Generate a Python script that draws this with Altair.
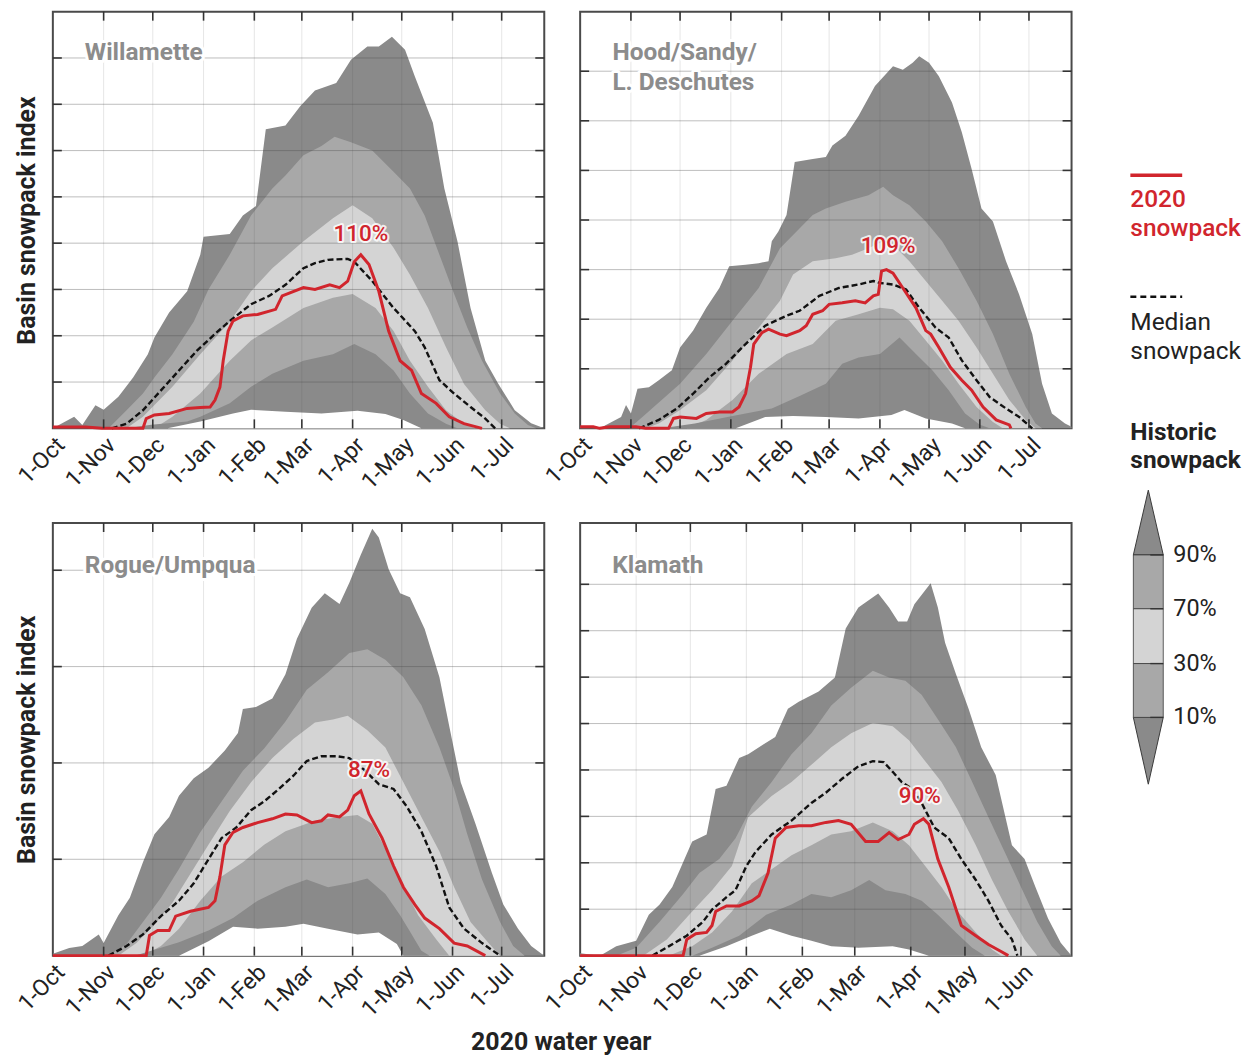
import altair as alt
import pandas as pd

# ---------------------------------------------------------------------------
# Data: (days after 1-Oct-2019, basin snowpack index)
# ---------------------------------------------------------------------------
WIL_MAX = [(0,0),(13,2.5),(18,0.7),(26,5),(31,4),(40,6.8),(49,11),(58,16),(62,19.6),(71,25),(82,29.6),(90,37.5),(92,41.4),(108,42),(116,46),(124,48),(130,64.6),(142,65.4),(151,69.6),(160,73),(173,74.6),(182,79.6),(192,82.5),(199,82.5),(207,84.6),(215,81.8),(221,76),(232,66),(239,51.8),(247,40.4),(255,26),(264,14.6),(272,9.6),(282,3.9),(292,1.1),(300,0)]
WIL_P90 = [(34,0),(45,3.9),(55,7.5),(62,11),(73,16),(86,23),(95,30),(108,37.5),(121,46),(134,51.8),(142,54.6),(153,59),(164,61),(172,63),(182,61.8),(195,60),(208,55.4),(218,51.8),(227,46),(236,37.5),(245,29),(253,21.8),(262,14.6),(273,7.5),(282,3.2),(290,0.7),(295,0)]
WIL_P70 = [(45,0),(55,2.5),(73,9),(90,16),(108,23),(121,29.6),(134,34.6),(153,40.4),(171,45.4),(183,48.2),(195,45.4),(208,39),(218,33.2),(229,26),(240,17.5),(251,9.6),(264,3.9),(273,1),(279,0)]
WIL_P30 = [(62,0),(73,2.5),(90,7.5),(108,14.6),(121,19),(134,21.8),(153,26),(171,28.2),(183,29),(197,26),(208,21),(218,14.6),(229,9),(240,3.9),(251,1),(258,0)]
WIL_P10 = [(45,0),(60,0.8),(82,1.5),(90,2.5),(108,5.4),(121,9),(134,11.8),(153,14.6),(171,16),(184,18.2),(197,16),(208,12.5),(218,7.5),(229,3.2),(240,1),(247,0)]
WIL_MIN = [(70,0),(90,1.5),(110,3.2),(121,4),(142,3.6),(164,3.2),(186,3.8),(203,3.1),(214,1.8),(225,0)]
WIL_MEDIAN = [(36,0),(45,1),(55,3.9),(66,8.2),(77,12.5),(88,16.8),(99,20.4),(108,23.2),(121,26.8),(132,28.6),(142,31),(153,34.6),(160,35.7),(168,36.4),(180,36.6),(184,36),(195,31.8),(208,26),(221,21),(227,17.5),(236,10.4),(245,7.5),(255,4.6),(264,2.1),(270,0)]
WIL_2020 = [(0,0.3),(20,0.3),(30,0),(55,0),(57,2.1),(62,2.9),(71,3.2),(82,4.3),(90,4.5),(96,4.6),(99,6.1),(102,8.9),(104,14.6),(107,21),(110,23.2),(116,24.3),(125,24.6),(136,25.7),(140,28.6),(153,30.4),(160,30),(169,31),(175,30.4),(180,31.8),(184,36),(188,37.5),(193,35.4),(199,29.6),(205,21),(212,14.6),(219,12.5),(225,7.5),(234,5.4),(242,2.5),(251,1),(262,0)]

HOOD_MAX = [(0,0.3),(12,0),(25,2.3),(28,4.7),(31,3),(35,8),(42,8.3),(48,9.7),(56,11.7),(61,16.3),(69,19.7),(77,24.3),(85,28.3),(91,32.7),(101,33),(109,33.3),(115,33.7),(117,37.7),(121,39.7),(126,43),(131,53.7),(142,54.3),(150,54.7),(154,57),(162,59),(170,63),(180,69),(191,73),(197,72.3),(203,73.7),(207,75),(213,73.7),(219,71),(227,65.7),(233,59.7),(239,52.3),(245,44.3),(252,41.7),(260,33.7),(268,27),(276,19),(282,9),(288,3),(296,1),(300,0.3)]
HOOD_P90 = [(30,0),(38,2.3),(61,9),(77,15),(93,21.7),(109,28.3),(122,36.3),(130,39),(142,43),(150,44.3),(162,45.7),(176,47),(185,48.7),(191,47),(201,45),(211,41.7),(221,37.7),(231,32.3),(242,25.7),(252,19),(262,11),(272,4.3),(278,1),(282,0)]
HOOD_P70 = [(40,0),(48,1),(61,3.7),(77,7.7),(93,13.7),(109,20.3),(122,25.7),(130,31),(142,33.7),(156,34.3),(166,35),(176,36.3),(185,37.7),(191,37),(201,33.7),(211,29.7),(221,25.7),(231,21.7),(242,16.3),(252,11),(262,5.7),(272,1.7),(278,0)]
HOOD_P30 = [(65,0),(77,1.7),(93,5.7),(109,11),(126,15),(142,17),(156,21.7),(170,23),(183,24.3),(191,24),(201,21.7),(211,17.7),(221,13.7),(231,9),(242,4.3),(252,1.3),(258,0)]
HOOD_P10 = [(50,0),(70,1),(90,2.3),(101,3),(117,4),(134,6.5),(150,9),(160,13),(170,14.3),(183,15),(195,18.3),(205,15),(215,11.7),(225,7.7),(235,3),(244,0.7),(250,0)]
HOOD_MIN = [(95,0),(113,2.3),(130,2.5),(150,2.3),(170,2),(190,2.7),(198,3.7),(211,2),(227,1),(235,0)]
HOOD_MEDIAN = [(36,0),(48,1.7),(59,4),(69,7),(79,10.3),(89,13),(101,17),(113,20.7),(126,22.7),(134,23.7),(146,26.7),(158,28.3),(170,29),(179,29.7),(183,29.3),(191,29),(199,28),(207,24.3),(217,20.3),(225,18.3),(233,13.7),(242,9.7),(250,6.3),(260,4),(268,2.3),(276,0)]
HOOD_2020 = [(0,0.3),(8,0.3),(12,0),(18,0.3),(34,0.3),(40,0),(54,0),(57,2),(61,2.3),(71,2),(77,3),(85,3.3),(93,3.3),(97,4.3),(101,7),(104,12.3),(106,17),(111,19.3),(115,20),(122,19),(126,18.7),(134,19.7),(138,20.7),(142,23),(148,23.7),(152,25),(160,25.3),(168,25.7),(174,25.3),(179,26.7),(182,27),(184,31.7),(187,32),(191,31.3),(197,28.3),(205,24.3),(211,19.7),(214,19),(219,16.3),(226,12.3),(233,9.7),(239,7.7),(246,4.3),(254,1.7),(262,0.7),(263,0)]

ROGUE_MAX = [(0,0.2),(10,0.8),(18,1),(28,2.2),(31,1.3),(40,4.2),(47,6),(55,9.7),(62,12.6),(71,14.4),(77,16.6),(86,18.4),(95,19.5),(105,21.3),(113,23.1),(116,25.6),(124,25.8),(134,26.7),(142,29.2),(149,32.9),(158,36.1),(166,37.6),(175,36.5),(181,38.7),(188,41.6),(195,44.3),(199,43.4),(205,40.1),(212,37.6),(218,37.2),(227,33.9),(236,28.9),(242,23.8),(249,18),(258,13.7),(268,8.6),(275,5.3),(284,2.8),(292,1),(300,0)]
ROGUE_P90 = [(34,0),(45,1.2),(55,3.5),(66,6),(77,9),(90,12.8),(103,16),(116,19.2),(129,21.5),(142,24.3),(155,27.6),(168,29.4),(181,31.4),(192,31.8),(203,30.7),(214,28.9),(225,26),(236,21.6),(245,17.3),(253,12.6),(262,7.9),(273,3.5),(281,1),(288,0)]
ROGUE_P70 = [(40,0),(51,1.3),(62,3.2),(73,5.5),(84,8.5),(95,11.5),(108,15),(121,18),(134,20.5),(147,22.5),(160,24.2),(171,24.5),(180,24.9),(192,23.4),(203,21.6),(214,18),(225,14.4),(236,10.8),(245,7.1),(255,3.5),(266,1.3),(273,0)]
ROGUE_P30 = [(55,0),(66,1),(77,2.8),(90,5.7),(103,8.2),(116,9.7),(129,11.5),(142,12.9),(160,14),(175,14.4),(186,14.6),(195,13.7),(203,11.1),(212,7.9),(223,4.2),(234,1.7),(242,0)]
ROGUE_P10 = [(50,0),(62,0.6),(77,1.4),(95,2.6),(110,3.9),(125,5.7),(142,7.1),(155,7.9),(168,7.1),(181,7.5),(192,8),(203,6.4),(212,4.2),(218,2.5),(225,0.5),(230,0)]
ROGUE_MIN = [(77,0),(95,1.5),(110,3),(125,2.8),(142,3),(153,3.3),(168,2.8),(186,2.2),(199,2.4),(210,1.2),(214,0)]
ROGUE_MEDIAN = [(34,0),(45,1),(55,2.2),(66,4.1),(77,5.7),(86,7.5),(95,10),(103,12.2),(112,13.3),(121,15.1),(129,16),(138,17.3),(147,18.7),(155,20.2),(164,20.7),(173,20.7),(181,20.5),(190,19.3),(199,17.8),(208,17.3),(216,15.5),(225,12.9),(234,9.3),(242,5),(251,2.8),(262,1.3),(273,0)]
ROGUE_2020 = [(0,0),(57,0),(59,2.1),(64,2.6),(71,2.6),(75,4.1),(84,4.6),(95,5),(99,5.7),(102,8.2),(105,11.5),(110,12.8),(116,13.3),(125,13.8),(134,14.2),(142,14.7),(149,14.6),(158,13.8),(164,14),(168,14.6),(175,14.4),(180,15.1),(184,16.6),(188,17.1),(193,14.7),(201,12.2),(208,9.3),(214,7.1),(221,5.3),(227,3.9),(236,2.8),(245,1.3),(253,1),(264,0)]

KLAM_MAX = [(0,0.5),(11,0),(20,2),(31,3.2),(38,8.8),(44,11),(51,14.8),(57,20.1),(62,24.6),(70,26.1),(75,35.9),(81,36.6),(88,42.6),(93,43.4),(99,44.9),(108,47.1),(115,53.2),(121,54.7),(132,56.9),(141,59.9),(147,70.5),(154,75),(165,78),(171,75),(176,72),(181,72),(185,75.7),(194,80.2),(198,75),(202,67.4),(208,60.7),(215,53.2),(222,44.9),(230,38.9),(239,23.8),(246,20.8),(252,14.8),(259,8),(266,2.8),(272,0)]
KLAM_P90 = [(20,0),(31,1.7),(44,7.3),(57,13.3),(66,17.8),(77,20.8),(86,25.3),(95,32.1),(106,37.4),(117,43.4),(128,47.9),(139,53.9),(150,57.7),(162,61.4),(171,59.9),(180,59.2),(189,56.2),(198,50.9),(208,44.9),(217,37.4),(226,29.8),(235,22.3),(244,14.8),(253,7.3),(261,2),(266,0)]
KLAM_P70 = [(35,0),(48,3.5),(62,9.5),(73,14.1),(84,19.3),(93,29.8),(106,34.4),(117,37.4),(128,41.1),(139,44.9),(150,47.9),(162,50.1),(173,49.4),(182,46.4),(191,41.9),(200,37.4),(209,31.4),(219,23.8),(228,16.3),(237,9.5),(246,3.5),(253,0)]
KLAM_P30 = [(49,0),(62,2),(73,5),(84,9.5),(95,15.6),(106,18.6),(117,21.6),(128,23.8),(139,26.1),(150,26.8),(162,28.7),(173,26.8),(182,23.8),(191,19.3),(200,14.8),(209,9.5),(219,5),(228,1.3),(233,0)]
KLAM_P10 = [(62,0),(73,1.7),(88,4.3),(103,8.8),(117,11),(128,13.3),(139,12.6),(150,14.1),(160,16.3),(169,14.1),(180,13.3),(189,11.8),(198,8.8),(208,5),(217,1.7),(224,0)]
KLAM_MIN = [(66,0),(81,2),(95,4.3),(105,5.8),(117,4.3),(128,3.2),(139,2),(154,1.7),(173,2),(182,1.3),(193,0)]
KLAM_MEDIAN = [(40,0),(49,2),(59,4.3),(68,7.3),(73,9.9),(81,12.6),(86,14.1),(92,19.3),(97,22.3),(106,26.1),(117,29.1),(128,32.9),(136,35.1),(145,38.1),(154,40.8),(162,41.9),(168,41.7),(173,39.6),(178,37.4),(184,35.9),(189,32.9),(196,27.6),(204,25.3),(211,20.8),(219,16.3),(226,11.8),(233,6.5),(239,3.5),(242,0)]
KLAM_2020 = [(0,0),(57,0),(59,3.5),(64,4.7),(70,5),(73,6.5),(75,9.5),(81,10.7),(88,10.7),(95,11.8),(99,12.9),(104,17.8),(108,25.3),(114,27.6),(121,28),(128,28),(136,28.7),(143,29.1),(150,28.3),(158,24.6),(165,24.6),(171,26.5),(176,25),(182,26.1),(185,28.3),(190,29.5),(193,28.3),(198,20.8),(204,14.8),(211,6.5),(219,4.3),(226,2.4),(233,0.9),(237,0)]

# y gridline values and axis extents (index units)
WIL_GRID = [10, 20, 30, 40, 50, 60, 70, 80]
HOOD_GRID = [12, 22, 32, 42, 52, 62, 72]
ROGUE_GRID = [10, 20, 30, 40]
KLAM_GRID = [10, 20, 30, 40, 50, 60, 70, 80]
Y_MAX = {"wil": 90, "hood": 84, "rogue": 44.9, "klam": 93.2}
X_DAYS = {"wil": 300, "hood": 300, "rogue": 300, "klam": 272}

MONTHS_LONG = ["2019-10-01", "2019-11-01", "2019-12-01", "2020-01-01", "2020-02-01",
               "2020-03-01", "2020-04-01", "2020-05-01", "2020-06-01", "2020-07-01"]
MONTHS_SHORT = MONTHS_LONG[:-1]

# panel names: (text, day, index)
WIL_NAME = [("Willamette", 19.5, 81)]
HOOD_NAME = [("Hood/Sandy/", 19.7, 75.6), ("L. Deschutes", 19.7, 69.7)]
ROGUE_NAME = [("Rogue/Umpqua", 19.5, 40.4)]
KLAM_NAME = [("Klamath", 17.8, 84)]

# 2020 percent annotations: (text, day, index)
WIL_PCT = [("110%", 188, 42)]
HOOD_PCT = [("109%", 188, 36.7)]
ROGUE_PCT = [("87%", 193, 19.3)]
KLAM_PCT = [("90%", 188, 34.4)]

LEGEND_2020 = ["2020", "snowpack"]
LEGEND_MEDIAN = ["Median", "snowpack"]
LEGEND_HIST = ["Historic", "snowpack"]
LEGEND_PCTS = ["90%", "70%", "30%", "10%"]

# ---------------------------------------------------------------------------
RED = "#d1252d"
DARK = "#8a8a8a"
MID = "#a8a8a8"
LIGHT = "#d4d4d4"
FONT = "Roboto"
TXT = "#222222"

ORIGIN = pd.Timestamp("2019-10-01", tz="UTC")


def ms(day):
    return int((ORIGIN + pd.Timedelta(days=float(day))).value // 1_000_000)


def date_ms(s):
    return int(pd.Timestamp(s, tz="UTC").value // 1_000_000)


def make_panel(series, grid_vals, ymax, xdays, months, names, pcts, w, h, ytitle=None):
    rows = [{"s": k, "t": ms(d), "v": v} for k, pts in series.items() for d, v in pts]
    df = pd.DataFrame(rows)
    mvals = [date_ms(m) for m in months]

    X = alt.X("t:T", scale=alt.Scale(type="utc", domain=[ms(0), ms(xdays)], nice=False),
              axis=alt.Axis(values=mvals, format="%-d-%b", labelAngle=315, labelAlign="right",
                            labelBaseline="top", labelFontSize=23, labelColor=TXT, labelPadding=5,
                            labelFlush=False, labelOverlap=False, ticks=False, domain=False,
                            grid=False, title=None))
    if ytitle:
        yaxis = alt.Axis(title=ytitle, labels=False, ticks=False, domain=False, grid=False,
                         minExtent=0, maxExtent=0, titlePadding=13, titleFontSize=25,
                         titleFontWeight="bold", titleColor=TXT)
    else:
        yaxis = None
    Y = alt.Y("v:Q", scale=alt.Scale(domain=[0, ymax], nice=False, zero=False), axis=yaxis, stack=None)

    base = alt.Chart(df)

    def band(key, color):
        return base.transform_filter(alt.datum.s == key).mark_area(
            color=color, opacity=1, interpolate="linear").encode(x=X, y=Y)

    layers = [band("max", DARK), band("p90", MID), band("p70", LIGHT),
              band("p30", MID), band("p10", DARK), band("min", "white")]

    gdf = pd.DataFrame({"v": grid_vals})
    mdf = pd.DataFrame({"t": mvals[1:]})
    # gridlines drawn over the bands, slightly darkening what lies below
    layers.append(alt.Chart(mdf).mark_rule(color="#4a4a4a", opacity=0.14, strokeWidth=1).encode(x=X))
    layers.append(alt.Chart(gdf).mark_rule(color="#4a4a4a", opacity=0.36, strokeWidth=1).encode(y=Y))

    layers.append(base.transform_filter(alt.datum.s == "median").mark_line(
        color="#111111", strokeDash=[6, 3], strokeWidth=2.4).encode(x=X, y=Y))
    layers.append(base.transform_filter(alt.datum.s == "y2020").mark_line(
        color=RED, strokeWidth=3).encode(x=X, y=Y))

    ndf = pd.DataFrame([{"label": l, "t": ms(d), "v": v} for l, d, v in names])
    layers.append(alt.Chart(ndf).mark_text(align="left", baseline="middle", fontSize=24.5,
                                           fontWeight="bold", color="white", stroke="white",
                                           strokeWidth=6, strokeJoin="round").encode(
        x=X, y=Y, text="label:N"))
    layers.append(alt.Chart(ndf).mark_text(align="left", baseline="middle", fontSize=24.5,
                                           fontWeight="bold", color="#8c8c8c").encode(
        x=X, y=Y, text="label:N"))

    pdf = pd.DataFrame([{"label": l, "t": ms(d), "v": v} for l, d, v in pcts])
    layers.append(alt.Chart(pdf).mark_text(align="center", baseline="middle", fontSize=22.5,
                                           fontWeight=500, color="white", stroke="white",
                                           strokeWidth=4, strokeJoin="round", opacity=0.8).encode(
        x=X, y=Y, text="label:N"))
    layers.append(alt.Chart(pdf).mark_text(align="center", baseline="middle", fontSize=22.5,
                                           fontWeight=500, color=RED).encode(
        x=X, y=Y, text="label:N"))

    tick_col = "#333333"
    layers.append(alt.Chart(gdf).mark_rule(color=tick_col, strokeWidth=1.6).encode(
        y=Y, x=alt.value(0), x2=alt.value(9)))
    layers.append(alt.Chart(gdf).mark_rule(color=tick_col, strokeWidth=1.6).encode(
        y=Y, x=alt.value(w - 9), x2=alt.value(w)))
    layers.append(alt.Chart(mdf).mark_rule(color=tick_col, strokeWidth=1.6).encode(
        x=X, y=alt.value(0), y2=alt.value(9)))
    layers.append(alt.Chart(mdf).mark_rule(color=tick_col, strokeWidth=1.6).encode(
        x=X, y=alt.value(h - 9), y2=alt.value(h)))

    return alt.layer(*layers).properties(width=w, height=h)


def series_dict(mx, p90, p70, p30, p10, mn, med, y20):
    return {"max": mx, "p90": p90, "p70": p70, "p30": p30, "p10": p10, "min": mn,
            "median": med, "y2020": y20}


W, H_TOP, H_BOT = 493, 418, 434

tl = make_panel(series_dict(WIL_MAX, WIL_P90, WIL_P70, WIL_P30, WIL_P10, WIL_MIN, WIL_MEDIAN, WIL_2020),
                WIL_GRID, Y_MAX["wil"], X_DAYS["wil"], MONTHS_LONG, WIL_NAME, WIL_PCT, W, H_TOP,
                ytitle="Basin snowpack index")
tr = make_panel(series_dict(HOOD_MAX, HOOD_P90, HOOD_P70, HOOD_P30, HOOD_P10, HOOD_MIN, HOOD_MEDIAN, HOOD_2020),
                HOOD_GRID, Y_MAX["hood"], X_DAYS["hood"], MONTHS_LONG, HOOD_NAME, HOOD_PCT, W, H_TOP)
bl = make_panel(series_dict(ROGUE_MAX, ROGUE_P90, ROGUE_P70, ROGUE_P30, ROGUE_P10, ROGUE_MIN, ROGUE_MEDIAN, ROGUE_2020),
                ROGUE_GRID, Y_MAX["rogue"], X_DAYS["rogue"], MONTHS_LONG, ROGUE_NAME, ROGUE_PCT, W, H_BOT,
                ytitle="Basin snowpack index")
br = make_panel(series_dict(KLAM_MAX, KLAM_P90, KLAM_P70, KLAM_P30, KLAM_P10, KLAM_MIN, KLAM_MEDIAN, KLAM_2020),
                KLAM_GRID, Y_MAX["klam"], X_DAYS["klam"], MONTHS_SHORT, KLAM_NAME, KLAM_PCT, W, H_BOT)

grid = alt.ConcatChart(
    concat=[tl, tr, bl, br], columns=2, bounds="flush",
    spacing=alt.RowColnumber(row=95, column=36),
    title=alt.TitleParams(text="2020 water year", orient="bottom", anchor="middle",
                          offset=8, dx=18, fontSize=25, fontWeight="bold", color=TXT),
)

# ---------------------------------------------------------------------------
# Legend (custom drawn)
# ---------------------------------------------------------------------------
ONE = pd.DataFrame({"k": [0]})
LW, LH = 140, 947
LX0 = 37  # left of legend items


def ltext(txt, px, py, color, weight, size=24.5):
    return alt.Chart(ONE).mark_text(align="left", baseline="middle", fontSize=size,
                                    fontWeight=weight, color=color).encode(
        x=alt.value(px), y=alt.value(py), text=alt.value(txt))


leg = []
leg.append(alt.Chart(ONE).mark_rule(color=RED, strokeWidth=3.5).encode(
    x=alt.value(LX0), x2=alt.value(LX0 + 52), y=alt.value(164)))
for i, s in enumerate(LEGEND_2020):
    leg.append(ltext(s, LX0, 189 + 29 * i, RED, 500))
leg.append(alt.Chart(ONE).mark_rule(color="#111111", strokeWidth=2.5, strokeDash=[6, 4]).encode(
    x=alt.value(LX0), x2=alt.value(LX0 + 52), y=alt.value(286)))
for i, s in enumerate(LEGEND_MEDIAN):
    leg.append(ltext(s, LX0, 312 + 29 * i, TXT, "normal"))
for i, s in enumerate(LEGEND_HIST):
    leg.append(ltext(s, LX0, 423 + 28 * i, TXT, "bold"))

bar_l, bar_r, bar_c = 40, 70, 55
levels = [545, 599, 654, 708]
leg.append(alt.Chart(ONE).mark_point(shape="M0,-4.333L1,0L-1,0Z", size=900, filled=True,
                                     fill=DARK, stroke="#3a3a3a", strokeWidth=1, opacity=1).encode(
    x=alt.value(bar_c), y=alt.value(levels[0])))
leg.append(alt.Chart(ONE).mark_point(shape="M-1,0L1,0L0,4.467Z", size=900, filled=True,
                                     fill=DARK, stroke="#3a3a3a", strokeWidth=1, opacity=1).encode(
    x=alt.value(bar_c), y=alt.value(levels[3])))
for (y0, y1), col in zip([(levels[0], levels[1]), (levels[1], levels[2]), (levels[2], levels[3])],
                         [MID, LIGHT, MID]):
    leg.append(alt.Chart(ONE).mark_rect(fill=col, stroke="#3a3a3a", strokeWidth=0.8).encode(
        x=alt.value(bar_l), x2=alt.value(bar_r), y=alt.value(y0), y2=alt.value(y1)))
for lab, yv in zip(LEGEND_PCTS, levels):
    leg.append(alt.Chart(ONE).mark_rule(color="#333333", strokeWidth=1.4).encode(
        x=alt.value(57), x2=alt.value(bar_r), y=alt.value(yv)))
    leg.append(ltext(lab, 80, yv, TXT, "normal", size=23.5))

legend = alt.layer(*leg).properties(width=LW, height=LH,
                                    view=alt.ViewBackground(stroke="transparent"))

chart = alt.hconcat(grid, legend, spacing=19).properties(
    padding={"left": 5, "top": 0, "right": 0, "bottom": 0}
).configure(font=FONT).configure_view(stroke="#4a4a4a", strokeWidth=2)

chart.save("out.html", embed_options={"renderer": "svg", "actions": False})
